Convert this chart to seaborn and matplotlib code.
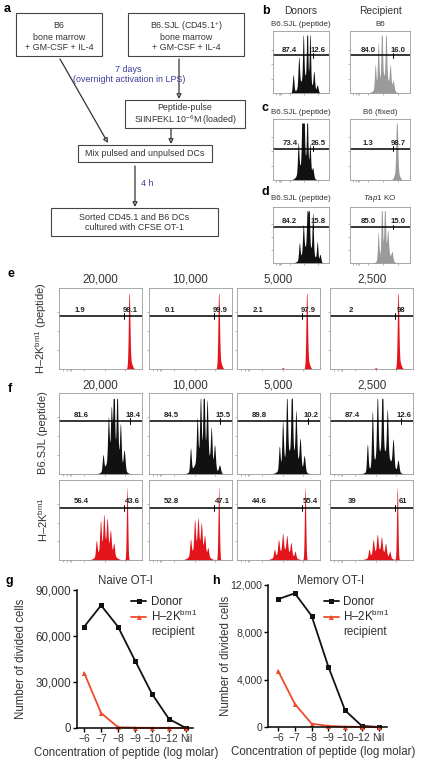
import numpy as np
import matplotlib
matplotlib.use("Agg")
import matplotlib.pyplot as plt
import seaborn as sns
import pandas as pd
from matplotlib.patches import Rectangle, FancyArrowPatch

# ---------------- data ----------------
conc_labels = ["\u22126", "\u22127", "\u22128", "\u22129", "\u221210", "\u221212", "Nil"]
naive_donor = [66000, 80000, 66000, 44000, 22300, 5900, 0]
naive_recip = [36000, 9800, 500, 200, 100, 100, 0]
memory_donor = [10800, 11300, 9400, 5100, 1400, 90, 0]
memory_recip = [4750, 1950, 280, 90, 30, 10, 0]

dilution_titles = ["20,000", "10,000", "5,000", "2,500"]

# gate percentages (left, right)
b_nums = [("87.4", "12.6"), ("84.0", "16.0")]
c_nums = [("73.4", "26.5"), ("1.3", "98.7")]
d_nums = [("84.2", "15.8"), ("85.0", "15.0")]
e_nums = [("1.9", "98.1"), ("0.1", "99.9"), ("2.1", "97.9"), ("2", "98")]
f_top_nums = [("81.6", "18.4"), ("84.5", "15.5"), ("89.8", "10.2"), ("87.4", "12.6")]
f_bot_nums = [("56.4", "43.6"), ("52.8", "47.1"), ("44.6", "55.4"), ("39", "61")]

# CFSE histogram peaks: (position, height, width)
b_left_peaks = [(0.58, 0.3, 0.09), (0.36, 0.3, 0.013), (0.46, 0.5, 0.013), (0.54, 0.75, 0.011),
                (0.61, 0.97, 0.011), (0.66, 0.85, 0.011), (0.73, 0.3, 0.013), (0.79, 0.12, 0.015)]
b_right_peaks = [(0.56, 0.3, 0.09), (0.42, 0.4, 0.012), (0.47, 0.7, 0.011), (0.53, 0.95, 0.011),
                 (0.60, 0.85, 0.011), (0.67, 0.35, 0.012), (0.72, 0.15, 0.014)]
c_left_peaks = [(0.56, 0.4, 0.08), (0.45, 0.5, 0.012), (0.52, 0.85, 0.011), (0.55, 0.98, 0.011),
                (0.61, 0.9, 0.011), (0.66, 0.45, 0.012), (0.71, 0.15, 0.014)]
c_right_peaks = [(0.78, 0.97, 0.013), (0.78, 0.18, 0.035)]
d_left_peaks = [(0.62, 0.35, 0.09), (0.47, 0.3, 0.012), (0.54, 0.5, 0.012), (0.61, 0.65, 0.011),
                (0.64, 0.95, 0.011), (0.71, 0.75, 0.011), (0.79, 0.35, 0.012), (0.84, 0.15, 0.014)]
d_right_peaks = [(0.58, 0.3, 0.07), (0.47, 0.5, 0.011), (0.53, 0.95, 0.011), (0.58, 0.9, 0.011),
                 (0.63, 0.4, 0.012), (0.70, 0.15, 0.014)]

e_peaks = [
    [(0.845, 0.97, 0.009), (0.86, 0.1, 0.02)],
    [(0.84, 0.97, 0.009), (0.855, 0.1, 0.02)],
    [(0.84, 0.97, 0.009), (0.855, 0.1, 0.02), (0.55, 0.02, 0.01)],
    [(0.82, 0.97, 0.009), (0.835, 0.1, 0.02), (0.55, 0.02, 0.01)],
]
f_top_peaks = [
    [(0.66, 0.32, 0.07), (0.53, 0.2, 0.009), (0.595, 0.55, 0.009), (0.63, 0.6, 0.009),
     (0.66, 0.97, 0.009), (0.70, 0.85, 0.009), (0.74, 0.5, 0.009), (0.785, 0.25, 0.011)],
    [(0.66, 0.32, 0.08), (0.50, 0.3, 0.009), (0.58, 0.55, 0.009), (0.62, 0.75, 0.009),
     (0.66, 0.97, 0.009), (0.70, 0.7, 0.009), (0.75, 0.45, 0.009), (0.79, 0.3, 0.01), (0.85, 0.1, 0.012)],
    [(0.65, 0.32, 0.08), (0.51, 0.3, 0.009), (0.55, 0.55, 0.009), (0.60, 0.8, 0.009),
     (0.66, 0.97, 0.009), (0.71, 0.6, 0.009), (0.76, 0.35, 0.01), (0.81, 0.2, 0.011)],
    [(0.63, 0.32, 0.09), (0.45, 0.35, 0.009), (0.51, 0.7, 0.009), (0.57, 0.8, 0.009),
     (0.63, 0.97, 0.009), (0.69, 0.6, 0.009), (0.76, 0.35, 0.01), (0.82, 0.15, 0.011)],
]
f_bot_peaks = [
    [(0.56, 0.22, 0.07), (0.45, 0.2, 0.009), (0.50, 0.38, 0.009), (0.54, 0.4, 0.009),
     (0.58, 0.35, 0.009), (0.62, 0.25, 0.009), (0.66, 0.15, 0.009), (0.82, 0.97, 0.008)],
    [(0.60, 0.22, 0.07), (0.50, 0.2, 0.009), (0.55, 0.37, 0.009), (0.59, 0.35, 0.009),
     (0.63, 0.3, 0.009), (0.67, 0.2, 0.009), (0.71, 0.1, 0.009), (0.84, 0.97, 0.008)],
    [(0.57, 0.14, 0.08), (0.45, 0.1, 0.009), (0.50, 0.18, 0.009), (0.55, 0.22, 0.009),
     (0.60, 0.2, 0.009), (0.65, 0.15, 0.009), (0.70, 0.08, 0.009), (0.82, 0.97, 0.008)],
    [(0.59, 0.14, 0.08), (0.47, 0.1, 0.009), (0.52, 0.18, 0.009), (0.57, 0.21, 0.009),
     (0.62, 0.18, 0.009), (0.67, 0.14, 0.009), (0.72, 0.08, 0.009), (0.81, 0.97, 0.008)],
]

# ---------------- style ----------------
sns.set_theme(style="ticks")
plt.rcParams['font.family'] = ['Liberation Sans', 'DejaVu Sans']
plt.rcParams['mathtext.fontset'] = 'custom'
plt.rcParams['mathtext.rm'] = 'Liberation Sans'
plt.rcParams['mathtext.it'] = 'Liberation Sans:italic'

BLACK = '#111111'
GRAY = '#9a9a9a'
RED = '#e3141c'
LRED = '#ee4b2b'
BLUE = '#3c3c9c'
TXT = '#333333'

W, H = 422, 766
fig = plt.figure(figsize=(W / 100, H / 100), dpi=100)


def rect(x0, y0, x1, y1):
    return [x0 / W, 1 - y1 / H, (x1 - x0) / W, (y1 - y0) / H]


ov = fig.add_axes([0, 0, 1, 1])
ov.set_xlim(0, W)
ov.set_ylim(H, 0)
ov.axis('off')

# ---------------- panel a: flowchart ----------------
FS_A = 6.4


def box(x0, y0, x1, y1, lines, ys):
    ov.add_patch(Rectangle((x0, y0), x1 - x0, y1 - y0, fill=False, ec='#444444', lw=0.8))
    cx = (x0 + x1) / 2
    for t, yy in zip(lines, ys):
        ov.text(cx, yy, t, ha='center', va='center', fontsize=FS_A, color=TXT)


def arrow(p0, p1):
    ov.add_patch(FancyArrowPatch(p0, p1, arrowstyle='-|>', mutation_scale=7,
                                 fc='white', ec='#333333', lw=0.9, shrinkA=0, shrinkB=0))


box(16, 13, 102, 56, ["B6", "bone marrow", "+ GM-CSF + IL-4"], ys=[26, 37, 48])
box(128, 13, 244, 56, ["B6.SJL (CD45.1$^{+}$)", "bone marrow", "+ GM-CSF + IL-4"], ys=[26, 37, 48])
box(125, 100, 245, 128, ["Peptide-pulse", "SIINFEKL 10$^{-6}$M (loaded)"], ys=[108, 120])
box(78, 145, 212, 162, ["Mix pulsed and unpulsed DCs"], ys=[154])
box(51, 208, 218, 236, ["Sorted CD45.1 and B6 DCs", "cultured with CFSE OT-1"], ys=[217, 228])
ov.text(128, 70, "7 days", ha='center', va='center', fontsize=FS_A, color=BLUE)
ov.text(129, 80, "(overnight activation in LPS)", ha='center', va='center', fontsize=FS_A, color=BLUE)
ov.text(141, 183, "4 h", ha='left', va='center', fontsize=FS_A, color=BLUE)
arrow((60, 59), (108, 143))
arrow((179, 59), (179, 99))
arrow((171, 129), (171, 144))
arrow((135, 166), (135, 207))

# panel letters
for t, x, y in [("a", 4, 9), ("b", 262, 11), ("c", 262, 108), ("d", 262, 192),
                ("e", 8, 274), ("f", 8, 389), ("g", 6, 581), ("h", 212, 581)]:
    ov.text(x, y, t, ha='left', va='center', fontsize=9, fontweight='bold', color='black')


# ---------------- histogram helper ----------------
xs = np.linspace(0, 1, 800)


def hist(px, peaks, color, gate, split, nums, numx=(0.28, 0.85)):
    ax = fig.add_axes(rect(*px))
    dens = np.zeros_like(xs)
    for p, h, w in peaks:
        dens += h * np.exp(-0.5 * ((xs - p) / w) ** 2)
    dens = np.minimum(dens, 1.0)
    ax.fill_between(xs, 0, dens, color=color, lw=0)
    ax.set_xlim(0, 1)
    ax.set_ylim(0, 1.07)
    ax.plot([0, 1], [gate, gate], color='black', lw=1.1, solid_capstyle='butt')
    ax.plot([split, split], [gate - 0.04, gate + 0.04], color='black', lw=0.7)
    ax.text(numx[0], gate + 0.03, nums[0], ha='center', va='bottom', fontsize=5.6,
            fontweight='bold', color='#222222')
    ax.text(numx[1], gate + 0.03, nums[1], ha='center', va='bottom', fontsize=5.6,
            fontweight='bold', color='#222222')
    for s in ax.spines.values():
        s.set_color('#9a9a9a')
        s.set_linewidth(0.6)
    ax.set_yticks([0.25, 0.5, 0.75])
    ax.set_xticks([0.05, 0.1, 0.13, 0.15, 0.3, 0.55, 0.8])
    ax.tick_params(length=1.5, width=0.5, color='#9a9a9a', labelleft=False, labelbottom=False)
    ax.set_facecolor('white')
    return ax


# ---------------- panels b-d ----------------
LX = (273, 329)
RX = (350, 410)
ov.text(301, 11, "Donors", ha='center', va='center', fontsize=7.4, color=TXT)
ov.text(380, 11, "Recipient", ha='center', va='center', fontsize=7.4, color=TXT)

rows_bcd = [
    ((31, 93), 24, ["B6.SJL (peptide)", "B6"], [b_left_peaks, b_right_peaks], 0.65, b_nums),
    ((119, 180), 112, ["B6.SJL (peptide)", "B6 (fixed)"], [c_left_peaks, c_right_peaks], 0.55, c_nums),
    ((207, 263), 199, ["B6.SJL (peptide)", "$\\it{Tap1}$ KO"], [d_left_peaks, d_right_peaks], 0.69, d_nums),
]
for (y0, y1), ty, titles, pk, gate, nums in rows_bcd:
    for j, (xx, col) in enumerate([(LX, BLACK), (RX, GRAY)]):
        hist((xx[0], y0, xx[1], y1), pk[j], col, gate, 0.72, nums[j], numx=(0.3, 0.8))
        ov.text((xx[0] + xx[1]) / 2, ty, titles[j], ha='center', va='center', fontsize=5.8, color=TXT)

# ---------------- panels e, f ----------------
COLX = [59, 149, 237, 330]
CW = 83
for i in range(4):
    x0 = COLX[i]
    ov.text(x0 + CW / 2, 280, dilution_titles[i], ha='center', va='center', fontsize=8.4, color=TXT)
    ov.text(x0 + CW / 2, 385, dilution_titles[i], ha='center', va='center', fontsize=8.4, color=TXT)
    hist((x0, 288, x0 + CW, 369), e_peaks[i], RED, 0.70, 0.78, e_nums[i], numx=(0.25, 0.86))
    hist((x0, 393, x0 + CW, 474), f_top_peaks[i], BLACK, 0.70, 0.86, f_top_nums[i], numx=(0.27, 0.89))
    hist((x0, 480, x0 + CW, 560), f_bot_peaks[i], RED, 0.70, 0.78, f_bot_nums[i], numx=(0.27, 0.88))

ov.text(41, 328, "H\u20132K$^{\\rm bm1}$ (peptide)", rotation=90, ha='center', va='center',
        fontsize=8, color=TXT)
ov.text(43, 433, "B6.SJL (peptide)", rotation=90, ha='center', va='center', fontsize=8, color=TXT)
ov.text(43, 520, "H\u20132K$^{\\rm bm1}$", rotation=90, ha='center', va='center', fontsize=8, color=TXT)

# ---------------- panels g, h ----------------
rec_label = "H\u20132K$^{\\rm bm1}$"
FS_G = 8.3
FS_XT = 7.5


def line_panel(px, donor, recip, ymax, yticks, ytl, xlim, title, title_x,
               leg_y, ylab_x, xlab_x, fs_yt):
    ax = fig.add_axes(rect(*px))
    df = pd.DataFrame({
        'idx': list(range(7)) * 2,
        'cells': donor + recip,
        'group': ['Donor'] * 7 + [rec_label] * 7,
    })
    sns.lineplot(data=df, x='idx', y='cells', hue='group', style='group',
                 palette={'Donor': BLACK, rec_label: LRED},
                 markers={'Donor': 's', rec_label: '^'}, dashes=False,
                 markersize=3.6, markeredgewidth=0, linewidth=1.3, ax=ax, clip_on=False)
    ax.set_xlim(*xlim)
    ax.set_ylim(0, ymax)
    ax.set_xticks(range(7))
    ax.set_xticklabels(conc_labels, fontsize=FS_XT, color=TXT)
    ax.set_yticks(yticks)
    ax.set_yticklabels(ytl, fontsize=fs_yt, color=TXT)
    ax.set_xlabel("Concentration of peptide (log molar)", fontsize=FS_G, color=TXT)
    ax.set_ylabel("Number of divided cells", fontsize=FS_G, color=TXT)
    ax.xaxis.set_label_coords(xlab_x, -0.135)
    ax.yaxis.set_label_coords(ylab_x, 0.5)
    sns.despine(ax=ax)
    for s in ['left', 'bottom']:
        ax.spines[s].set_linewidth(1.1)
        ax.spines[s].set_color('black')
    ax.tick_params(length=3, width=1, pad=1, color='black')
    h, l = ax.get_legend_handles_labels()
    leg = ax.legend(h, l, loc='upper left', bbox_to_anchor=(0.43, leg_y), frameon=False,
                    fontsize=FS_G, handlelength=1.3, handletextpad=0.4, labelspacing=0.1,
                    borderaxespad=0)
    # second line of the recipient legend entry, aligned under its label
    fig.canvas.draw()
    txt = leg.get_texts()[1]
    bb = txt.get_window_extent()
    x_fig = bb.x0 / fig.dpi / fig.get_figwidth()
    y_fig = bb.y0 / fig.dpi / fig.get_figheight()
    fig.text(x_fig, y_fig - 0.002, "recipient", ha='left', va='top', fontsize=FS_G, color=TXT)
    ov.text(title_x, 581, title, ha='center', va='center', fontsize=FS_G, color=TXT)
    return ax


line_panel((77, 590, 193, 728), naive_donor, naive_recip, 90000,
           [0, 30000, 60000, 90000], ["0", "30,000", "60,000", "90,000"], (-0.42, 6.42),
           "Naive OT-I", 125, 0.99, -0.43, 0.42, FS_G)
line_panel((268, 585, 387, 727), memory_donor, memory_recip, 12000,
           [0, 4000, 8000, 12000], ["0", "4,000", "8,000", "12,000"], (-0.6, 6.5),
           "Memory OT-I", 331, 0.955, -0.30, 0.46, 7.6)

fig.savefig("out.png", dpi=100)
